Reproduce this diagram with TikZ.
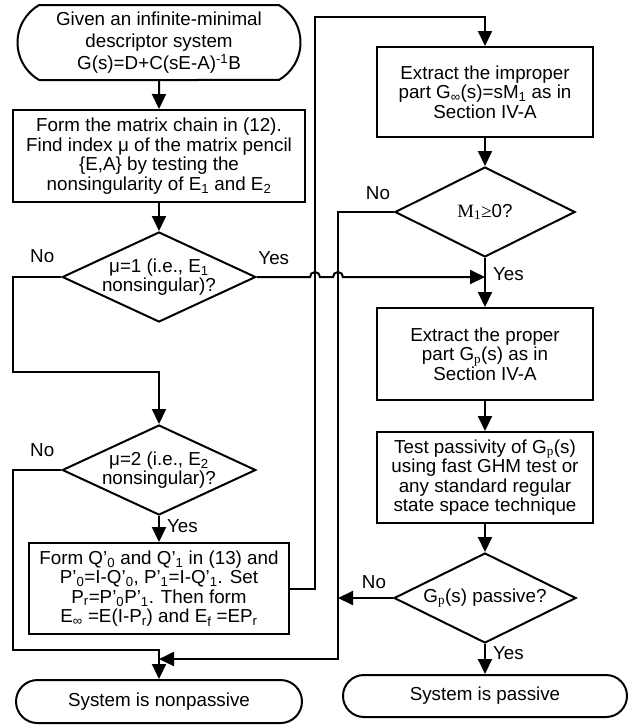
\documentclass[tikz,border=0pt]{standalone}
\usepackage{fontspec}
\setmainfont{Liberation Sans}
\newfontfamily\serifm{Liberation Serif}
\usetikzlibrary{
        arrows.meta,
        positioning,
        shapes.geometric,
        shapes.misc
    }
\tikzset{>={Triangle[length=15pt,width=14pt]}}
\tikzset{box/.style={draw,rectangle,align=center,inner sep=0pt,minimum width=216pt,minimum height=91pt}}
\tikzset{dec/.style={draw,diamond,aspect=2.15,align=center,inner sep=0pt,minimum width=190pt,minimum height=88pt}}
\tikzset{term/.style={draw,rounded rectangle,align=center,inner sep=0pt,minimum height=43pt}}
\tikzset{lbl/.style={inner sep=0pt}}

\begin{document}
\begin{tikzpicture}[x=1pt,y=-1pt,line width=2pt,font=\fontsize{18.8}{19.5}\selectfont]
                \useasboundingbox (0,0) rectangle (637,726);
                % left column
                \node[term,minimum width=283pt,minimum height=75pt,rounded rectangle arc length=120,
                      font=\fontsize{18.8}{22}\selectfont] (start) at (159,42.5)
                      {Given an infinite-minimal\\descriptor system\\G(s)=D+C(sE-A)\textsuperscript{-1}B};
                \node[box,minimum width=292pt,minimum height=92pt] (chain) [below=28pt of start]
                      {Form the matrix chain in (12).\\Find index μ of the matrix pencil\\{\{}E,A{\}} by testing the\\nonsingularity of E\textsubscript{1} and E\textsubscript{2}};
                \node[dec] (mu1) [below=28pt of chain] {μ=1 (i.e., E\textsubscript{1}\\nonsingular)?};
                \node[dec] (mu2) [below=101pt of mu1] {μ=2 (i.e., E\textsubscript{2}\\nonsingular)?};
                \node[box,minimum width=260pt] (form) [below=26pt of mu2]
                      {Form Q’\textsubscript{0} and Q’\textsubscript{1} in (13) and\\P’\textsubscript{0}=I-Q’\textsubscript{0}, P’\textsubscript{1}=I-Q’\textsubscript{1}. Set\\P\textsubscript{r}=P’\textsubscript{0}P’\textsubscript{1}. Then form\\E\textsubscript{∞} =E(I-P\textsubscript{r}) and E\textsubscript{f} =EP\textsubscript{r}};
                \node[term,minimum width=286pt] (nonpass) [below=44pt of form] {System is nonpassive};
                % right column
                \node[box,minimum height=90pt] (improper) at (485,92)
                      {Extract the improper\\part G\textsubscript{∞}(s)=sM\textsubscript{1} as in\\Section IV-A};
                \node[dec,minimum width=180pt,minimum height=90pt] (m1) [below=28pt of improper]
                      {{\serifm M\textsubscript{1}≥}0?};
                \node[box,minimum height=92pt] (proper) [below=49pt of m1]
                      {Extract the proper\\part G\textsubscript{\serifm p}(s) as in\\Section IV-A};
                \node[box] (test) [below=30pt of proper]
                      {Test passivity of G\textsubscript{\serifm p}(s)\\using fast GHM test or\\any standard regular\\state space technique};
                \node[dec,minimum width=182pt,minimum height=90pt] (pass) [below=28pt of test]
                      {G\textsubscript{\serifm p}(s) passive?};
                \node[term,minimum width=284pt,minimum height=42pt] (passive) [below=30pt of pass] {System is passive};

                \coordinate (join) at ([yshift=29pt]nonpass.north);
                \coordinate (hit) at ([yshift=20pt]nonpass.north);
                \coordinate (up) at ([xshift=25pt]form.east);
                \coordinate (rail) at ([xshift=-56pt]m1.west);
                \coordinate (top) at ([yshift=29pt]improper.north);
                \coordinate (j1) at (mu1.east -| up);
                \coordinate (j2) at (mu1.east -| rail);

                \path[->]
                    (start) edge (chain)
                    (chain) edge (mu1)
                    (mu2) edge node[lbl,right=7pt,pos=0.4] {Yes} (form)
                    (improper) edge (m1)
                    (m1) edge node[lbl,right=7pt,pos=0.33] {Yes} (proper)
                    (proper) edge (test)
                    (test) edge (pass)
                    (pass) edge node[lbl,right=7pt,pos=0.3] {Yes} (passive)
                ;
                \draw[->] (mu1.west) -- ++(-48,0) -- ++(0,95) -| (mu2.north);
                \draw[->] (mu2.west) -- ++(-48,0) |- (join) -- (nonpass.north);
                \draw[->] (form.east) -- (up) |- (top) -- (improper.north);
                \draw[->] (m1.west) -- (rail) |- (hit);
                \draw[->] (pass.west) -- (pass.west -| rail);
                \draw[->] (mu1.east) -- ([xshift=-5pt]j1) arc[start angle=180,end angle=0,radius=5pt]
                    -- ([xshift=-5pt]j2) arc[start angle=180,end angle=0,radius=5pt] -- (mu1.east -| m1.south);

                \node[lbl] at ([shift={(-19pt,21pt)}]mu1.west) {No};
                \node[lbl] at ([shift={(17pt,19pt)}]mu1.east) {Yes};
                \node[lbl] at ([shift={(-19pt,20pt)}]mu2.west) {No};
                \node[lbl] at ([shift={(-16pt,19pt)}]m1.west) {No};
                \node[lbl] at ([shift={(-19pt,16pt)}]pass.west) {No};
            \end{tikzpicture}
\end{document}
